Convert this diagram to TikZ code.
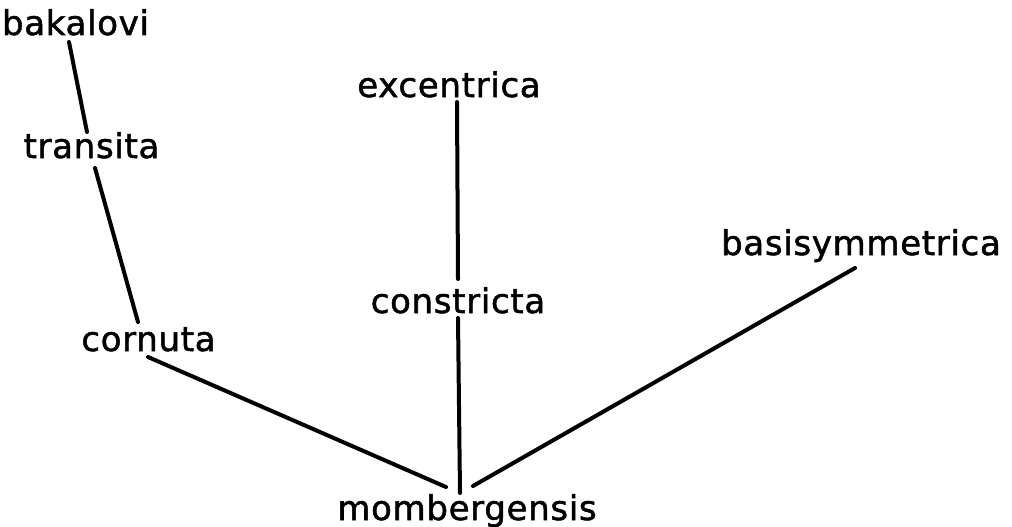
\documentclass[tikz,border=0pt]{standalone}
\usepackage{fontspec}
\setmainfont{DejaVu Sans}[FakeBold=1.5,LetterSpace=2]
\usetikzlibrary{calc}
\tikzset{
  taxon/.style={inner sep=0pt, anchor=base, font=\fontsize{34}{40}\selectfont},
  link/.style={line width=4pt, line cap=round}
}
\begin{document}
\begin{tikzpicture}[x=1pt,y=-1pt]
\useasboundingbox (0,0) rectangle (1012,527);
\node[taxon] (bak) at (75.5,35) {bakalovi};
\node[taxon] (tra) at (91.5,158) {transita};
\node[taxon] (cor) at (148.5,351) {cornuta};
\node[taxon] (exc) at (449,97) {excentrica};
\node[taxon] (con) at (458,313) {constricta};
\node[taxon] (bas) at (861,255) {basisymmetrica};
\node[taxon] (mom) at (467,520) {mombergensis};
\draw[link] ($(bak.base)+(-6.5,7)$) -- ($(tra.base)+(-4.5,-26)$);
\draw[link] ($(tra.base)+(3.5,10)$) -- ($(cor.base)+(-10.5,-29)$);
\draw[link] ($(cor.base)+(-0.5,6)$) -- ($(mom.base)+(-21,-33)$);
\draw[link] ($(exc.base)+(8,5)$) -- ($(con.base)+(0,-34)$);
\draw[link] ($(con.base)+(0,5)$) -- ($(mom.base)+(-7,-27)$);
\draw[link] ($(bas.base)+(-6,13)$) -- ($(mom.base)+(6,-34)$);
\end{tikzpicture}
\end{document}
